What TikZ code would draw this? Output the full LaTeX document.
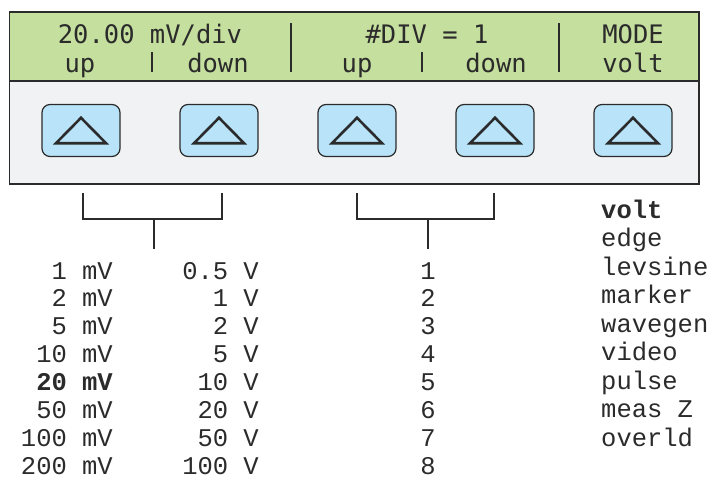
\documentclass[tikz,border=0pt]{standalone}
\usepackage{fontspec}
\setmonofont{Liberation Mono}
\newfontfamily\lcdfont{DejaVu Sans Mono}
\usetikzlibrary{positioning}
\definecolor{lcdgreen}{RGB}{197,223,158}
\definecolor{panelgrey}{RGB}{241,242,244}
\definecolor{keyblue}{RGB}{184,227,248}
\definecolor{ink}{RGB}{43,43,43}

\begin{document}
\begin{tikzpicture}[x=1pt,y=-1pt,
  every node/.style={inner sep=0pt,text=ink},
  disp/.style={font=\lcdfont\fontsize{25.5}{26}\selectfont,anchor=base},
  lst/.style={font=\ttfamily\fontsize{25.5}{26}\selectfont},
  key/.style={draw=ink,line width=1.2pt,fill=keyblue,rounded corners=8pt,minimum width=78pt,minimum height=52pt},
  sep/.style={ink,line width=2.6pt},
  brace/.style={ink,line width=2pt}]
\useasboundingbox (0,0) rectangle (713,485);
% display and key panel
\fill[lcdgreen] (9.5,12) rectangle (699,81);
\fill[panelgrey] (9.5,81) rectangle (699,184);
\draw[ink,line width=1.6pt] (9.5,12) rectangle (699,184) (9.5,81) -- (699,81);
% softkeys
\foreach \i/\x in {1/81,2/219,3/357,4/495,5/633}{
  \node[key] (k\i) at (\x,130.5) {};
  \draw[ink,line width=2.6pt] ([shift={(0,-12.7)}]k\i.center) -- ([shift={(25,12.7)}]k\i.center)
    -- ([shift={(-25,12.7)}]k\i.center) -- cycle;
}
% display text
\node[disp] (vdiv) at (150,43) {20.00 mV/div};
\node[disp] (ndiv) at (427,43) {\#DIV = 1};
\node[disp] (mode) at (633,43) {MODE};
\node[disp] (up1) at (80,72) {up};
\node[disp] (dn1) at (218,72) {down};
\node[disp] (up2) at (357,72) {up};
\node[disp] (dn2) at (496,72) {down};
\node[disp] (volt) at (633,72) {volt};
\draw[sep] (152,52) -- (152,72);
\draw[sep] (422,52) -- (422,72);
\draw[sep] (291,23) -- (291,72);
\draw[sep] (559,23) -- (559,72);
% brackets
\coordinate (scl) at (83,193);
\coordinate (scr) at (222,193);
\coordinate (scm) at (154,219);
\coordinate (dvl) at (357,193);
\coordinate (dvr) at (494,193);
\coordinate (dvm) at (428,219);
\draw[brace] (scl) |- (scm) -| (scr);
\draw[brace] (scm) -- ++(0,30);
\draw[brace] (dvl) |- (dvm) -| (dvr);
\draw[brace] (dvm) -- ++(0,30);
% value lists
\foreach \t [count=\r from 0] in {1 mV,2 mV,5 mV,10 mV,{\bfseries 20 mV},50 mV,100 mV,200 mV}
  \node[lst,anchor=base east] (mv\r) at (113,279+27.9*\r) {\t};
\foreach \t [count=\r from 0] in {0.5 V,1 V,2 V,5 V,10 V,20 V,50 V,100 V}
  \node[lst,anchor=base east] (v\r) at (259,279+27.9*\r) {\t};
\foreach \r in {1,...,8}
  \node[lst,anchor=base] (n\r) at (428,279+27.9*\r-27.9) {\r};
\foreach \t [count=\r from 0] in {{\bfseries volt},edge,levsine,marker,wavegen,video,pulse,meas Z,overld}
  \node[lst,anchor=base west] (m\r) at (601,218+28.5*\r) {\t};
\end{tikzpicture}
\end{document}
